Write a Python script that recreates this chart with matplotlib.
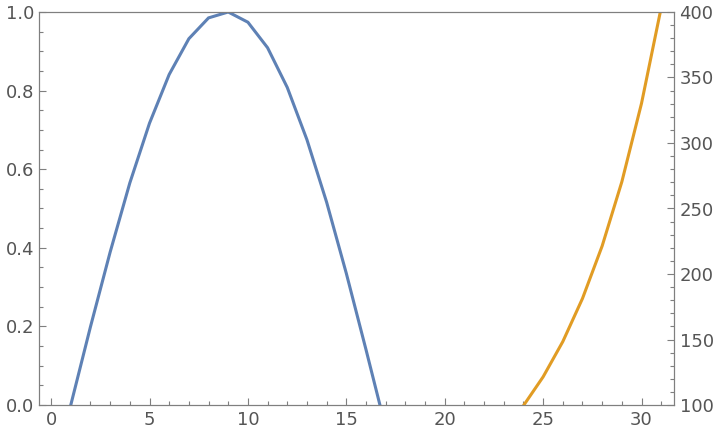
import numpy as np
from matplotlib import pyplot as plt
from matplotlib.ticker import MultipleLocator

# values
x_blue = [1, 2, 3, 4, 5, 6, 7, 8, 9, 10, 11, 12, 13, 14, 15, 16, 17]
y_blue = [0.0, 0.199, 0.389, 0.565, 0.717, 0.841, 0.932, 0.985, 1.0, 0.974,
          0.909, 0.808, 0.675, 0.516, 0.335, 0.141, -0.058]
x_orange = [23, 24, 25, 26, 27, 28, 29, 30, 31]
y_orange = [81.5, 99.5, 121.5, 148.4, 181.3, 221.4, 270.4, 330.3, 403.4]

blue = '#5E81B5'
orange = '#E19C24'
grey = '#555555'
spine = '#7f7f7f'

fig = plt.figure(figsize=(7.2, 4.36), dpi=100)
ax1 = fig.add_axes([38.5/720, 1-405/436, (674-38.5)/720, (405-12)/436])
ax2 = ax1.twinx()

ax1.plot(x_blue, y_blue, color=blue, lw=2.2, solid_joinstyle='miter')
ax2.plot(x_orange, y_orange, color=orange, lw=2.2, solid_joinstyle='miter')

ax1.set_xlim(-0.64, 31.65)
ax1.set_ylim(0, 1)
ax2.set_ylim(100, 400)

ax1.xaxis.set_major_locator(MultipleLocator(5))
ax1.xaxis.set_minor_locator(MultipleLocator(1))
ax1.yaxis.set_major_locator(MultipleLocator(0.2))
ax1.yaxis.set_minor_locator(MultipleLocator(0.05))
ax2.yaxis.set_major_locator(MultipleLocator(50))
ax2.yaxis.set_minor_locator(MultipleLocator(10))

for ax in (ax1, ax2):
    for s in ax.spines.values():
        s.set_color(spine)
        s.set_linewidth(0.8)
    ax.tick_params(which='both', direction='in', color=spine, width=0.8,
                   labelcolor=grey, labelsize=13, top=False)
    ax.tick_params(which='major', length=5)
    ax.tick_params(which='minor', length=3)

ax1.tick_params(axis='y', right=False, pad=3)
ax1.tick_params(axis='x', pad=4)
ax2.tick_params(axis='y', left=False, pad=4)
ax1.yaxis.set_major_formatter(plt.FormatStrFormatter('%.1f'))

fig.savefig('out.png', dpi=100)
